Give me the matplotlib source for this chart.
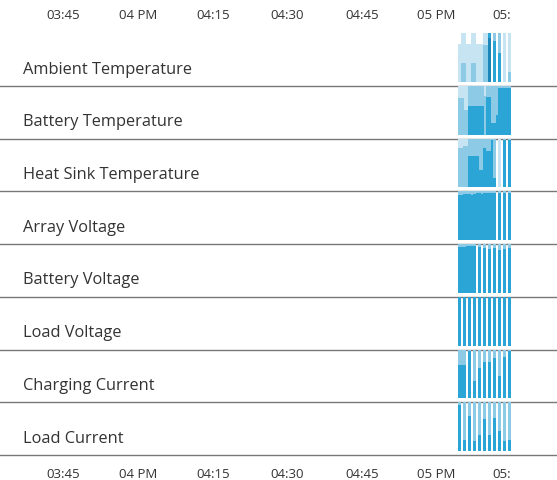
import numpy as np
import matplotlib
matplotlib.use('Agg')
import matplotlib.pyplot as plt

plt.rcParams['font.family'] = ['Open Sans', 'DejaVu Sans']

# horizon chart, one row per metric; values in "bands" (0..4)
names = ['Ambient Temperature', 'Battery Temperature', 'Heat Sink Temperature',
         'Array Voltage', 'Battery Voltage', 'Load Voltage',
         'Charging Current', 'Load Current']

# sample times, minutes after 03:00 (half-minute steps)
times = 124.4 + 0.5 * np.arange(21)
nan = np.nan

ambient = [0.78, 1.4, 1.4, 0.78, 0.78, 1.4, 1.4, 0.78, 0.78, 0.78, 1.75,
           1.75, 3.9, nan, 2.85, nan, 2.6, nan, 1.0, nan, 1.2]
battery_temp = [1.75, 1.75, 1.5, 1.5, 2.6, 2.6, 2.6, 2.6, 2.6, 2.6, 1.8,
                2.77, 2.77, 2.24, 2.24, 2.4, 2.95, 2.95, 2.95, 2.95, 2.95]
heat_sink = [1.8, 1.8, 1.85, 1.85, 2.64, 2.64, 2.64, 2.64, 2.35, 2.35, 2.8,
             2.75, 2.75, 2.97, 2.2, nan, 1.0, nan, 2.97, nan, 2.97]
array_voltage = [2.93, 2.93, 2.94, 2.94, 2.95, 2.93, 2.95, 2.96, 2.96, 2.95, 2.96,
                 2.96, 2.97, 2.97, 2.97, nan, 2.97, nan, 2.97, nan, 2.97]
battery_voltage = [2.95, 2.95, 2.95, 2.97, 2.97, 2.97, 2.97, nan, 2.95, nan, 2.93,
                   nan, 2.9, nan, 2.92, nan, 2.88, nan, 2.9, nan, 2.93]
load_voltage = [3.0, nan, 3.0, nan, 3.0, nan, 3.0, nan, 3.0, nan, 3.0,
                nan, 3.0, nan, 3.0, nan, 3.0, nan, 3.0, nan, 3.0]
charging_current = [2.68, 2.68, 2.68, nan, 2.97, nan, 2.36, nan, 2.62, nan, 2.75,
                    nan, 2.75, nan, 2.82, nan, 2.45, nan, 2.85, nan, 2.97]
load_current = [2.95, nan, 2.23, nan, 2.72, nan, 2.2, nan, 2.33, nan, 2.65,
                nan, 2.33, nan, 2.68, nan, 2.4, nan, 2.2, nan, 2.22]

rows = [ambient, battery_temp, heat_sink, array_voltage,
        battery_voltage, load_voltage, charging_current, load_current]

tick_minutes = [45, 60, 75, 90, 105, 120, 135]
tick_labels = ['03:45', '04 PM', '04:15', '04:30', '04:45', '05 PM', '05:']

band_colors = ['#c6e4f1', '#8ccae5', '#2ba4d6', '#1a87b8']

W, H = 557, 481
row_top = 34.3
row_h = 52.7

fig = plt.figure(figsize=(W / 100, H / 100), dpi=100)
axes = []
for k, (name, vals) in enumerate(zip(names, rows)):
    top = row_top + k * row_h
    ax = fig.add_axes([0, 1 - (top + row_h) / H, 1, row_h / H])
    ax.patch.set_visible(False)
    vals = np.array(vals, dtype=float)
    for b, c in enumerate(band_colors):
        h = np.clip(vals - b, 0, 1)
        h = np.where(np.isnan(vals), 0, h)
        ax.bar(times, h, width=0.56, align='edge', color=c, linewidth=0,
               antialiased=False)
    ax.set_xlim(32.23, 144.23)
    ax.set_ylim(-0.08, 1.0)
    for s in ['top', 'left', 'right']:
        ax.spines[s].set_visible(False)
    ax.spines['bottom'].set_color('#777777')
    ax.spines['bottom'].set_linewidth(1)
    ax.spines['bottom'].set_zorder(5)
    ax.set_yticks([])
    ax.set_xticks([])
    ax.text(23 / W, 0.33, name, transform=ax.transAxes, va='center', ha='left',
            fontsize=11.8, color='#333333')
    axes.append(ax)

# time axes, top and bottom
for ax, where in [(axes[0], 'top'), (axes[-1], 'bottom')]:
    ax.set_xticks(tick_minutes)
    ax.set_xticklabels(tick_labels)
    if where == 'top':
        ax.tick_params(axis='x', top=True, labeltop=True, bottom=False, labelbottom=False)
    ax.tick_params(axis='x', length=0, pad=9, labelsize=9.5, labelcolor='#333333')
    labels = ax.get_xticklabels(minor=False)
    labels[-1].set_ha('right')

fig.savefig('out.png', dpi=100)
